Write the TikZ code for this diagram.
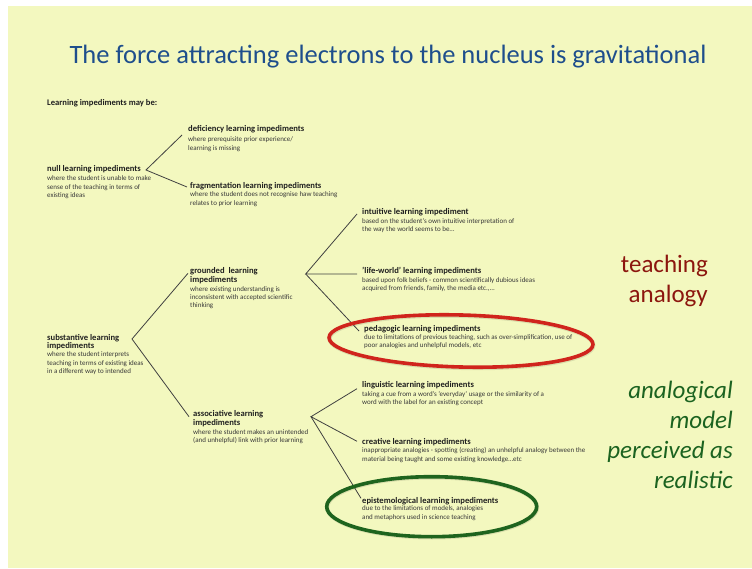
\documentclass[tikz,border=0pt]{standalone}
\usepackage{fontspec}
\setmainfont{Carlito}
\usetikzlibrary{calc}
\definecolor{paper}{RGB}{243,248,191}
\definecolor{titleblue}{RGB}{30,78,140}
\definecolor{darkred}{RGB}{140,22,14}
\definecolor{ringred}{RGB}{208,36,28}
\definecolor{darkgreen}{RGB}{27,99,32}
\definecolor{ringgreen}{RGB}{30,100,30}
\begin{document}
% multi-line nodes below are placed by the baseline of their last line
\begin{tikzpicture}[x=1pt,y=-1pt,
  heading/.style={inner sep=0pt, anchor=base west, align=left, text=black!88,
    font=\fontsize{8.6}{8.3}\selectfont\bfseries},
  desc/.style={inner sep=0pt, anchor=base west, align=left, text=black!78,
    font=\fontsize{7}{8.4}\selectfont},
  link/.style={draw=black!75, line width=0.8pt},
  ring/.style={line width=3.6pt},
  ringshadow/.style={line width=4pt, draw=black, opacity=0.1},
  side/.style={inner sep=0pt, anchor=base east, align=right,
    font=\fontsize{25}{30}\selectfont}]
\useasboundingbox (0,0) rectangle (752,569);
\fill[white] (0,0) rectangle (752,569);
\fill[paper] (8,6) rectangle (752,568);

% title
\node[inner sep=0pt, anchor=base, text=titleblue,
  font=\fontsize{26.5}{30}\selectfont] (title) at (388,64)
  {The force attracting electrons to the nucleus is gravitational};

\node[heading] (intro) at (47,106) {Learning impediments may be:};

% null branch
\node[heading] (null) at (47,172) {null learning impediments};
\node[desc] (nullD) at (47,197.8) {where the student is unable to make\\sense of the teaching in terms of\\existing ideas};
\node[heading] (def) at (188,132) {deficiency learning impediments};
\node[desc] (defD) at (188,150.1) {where prerequisite prior experience/\\learning is missing};
\node[heading] (frag) at (190,189) {fragmentation learning impediments};
\node[desc] (fragD) at (190,205.4) {where the student does not recognise haw teaching\\relates to prior learning};

% substantive branch
\node[heading] (subst) at (47,348.3) {substantive learning\\impediments};
\node[desc] (substD) at (47,373.5) {where the student interprets\\teaching in terms of existing ideas\\in a different way to intended};

\node[heading] (grnd) at (190,282.3) {grounded\ \ learning\\impediments};
\node[desc] (grndD) at (190,307.8) {where existing understanding is\\inconsistent with accepted scientific\\thinking};

\node[heading] (intu) at (362,215) {intuitive learning impediment};
\node[desc] (intuD) at (362,231.7) {based on the student's own intuitive interpretation of\\the way the world seems to be\dots};
\node[heading] (life) at (362,274) {'life-world' learning impediments};
\node[desc] (lifeD) at (362,290.7) {based upon folk beliefs - common scientifically dubious ideas\\acquired from friends, family, the media etc.,...};
\node[heading] (peda) at (364,331) {pedagogic learning impediments};
\node[desc] (pedaD) at (364,347.7) {due to limitations of previous teaching, such as over-simplification, use of\\poor analogies and unhelpful models, etc};

\node[heading] (assoc) at (193,425) {associative learning\\impediments};
\node[desc] (assocD) at (193,442.4) {where the student makes an unintended\\(and unhelpful) link with prior learning};

\node[heading] (ling) at (362,387.7) {linguistic learning impediments};
\node[desc] (lingD) at (362,404.4) {taking a cue from a word's 'everyday' usage or the similarity of a\\word with the label for an existing concept};
\node[heading] (crea) at (362,444.3) {creative learning impediments};
\node[desc] (creaD) at (362,461.1) {inappropriate analogies - spotting (creating) an unhelpful analogy between the\\material being taught and some existing knowledge\dots etc};
\node[heading] (epis) at (362,503.3) {epistemological learning impediments};
\node[desc] (episD) at (362,519.1) {due to the limitations of models, analogies\\and metaphors used in science teaching};

% branch points
\coordinate (nullhub) at (146,170);
\coordinate (substhub) at (132,339);
\coordinate (grndhub) at (305.7,274);
\coordinate (assochub) at (311,416.7);

\draw[link] ([xshift=-6pt,yshift=-3pt]def.base west) -- (nullhub) -- ([xshift=-3pt,yshift=2pt]frag.base west);
\draw[link] ([xshift=-2pt,yshift=9pt]grnd.base west) -- (substhub) -- ([xshift=-4pt,yshift=8.3pt]assoc.base west);
\draw[link] ([xshift=-5pt,yshift=1pt]intu.base west) -- (grndhub) -- ([xshift=-5pt]life.base west);
\draw[link] (grndhub) -- ([xshift=-5pt]peda.base west);
\draw[link] ([xshift=-5pt,yshift=-1pt]ling.base west) -- (assochub) -- ([xshift=-5pt,yshift=3pt]crea.base west);
\draw[link] (assochub) -- ([xshift=-1pt,yshift=5pt]epis.base west);

% highlight rings
\draw[ringshadow] (461.5,342) ellipse[x radius=132, y radius=26, rotate=-1.5];
\draw[ring, ringred] (461,341) ellipse[x radius=132, y radius=26, rotate=-1.5];
\draw[ringshadow] (432.2,507.5) ellipse[x radius=105, y radius=30];
\draw[ring, ringgreen] (431.7,506.7) ellipse[x radius=105, y radius=30];

% side notes
\node[side, text=darkred] (teach) at (708,302) {teaching\\analogy};
\node[side, text=darkgreen, font=\fontsize{25}{30}\selectfont\itshape] (model) at (733,488) {analogical\\model\\perceived as\\realistic};
\end{tikzpicture}
\end{document}
